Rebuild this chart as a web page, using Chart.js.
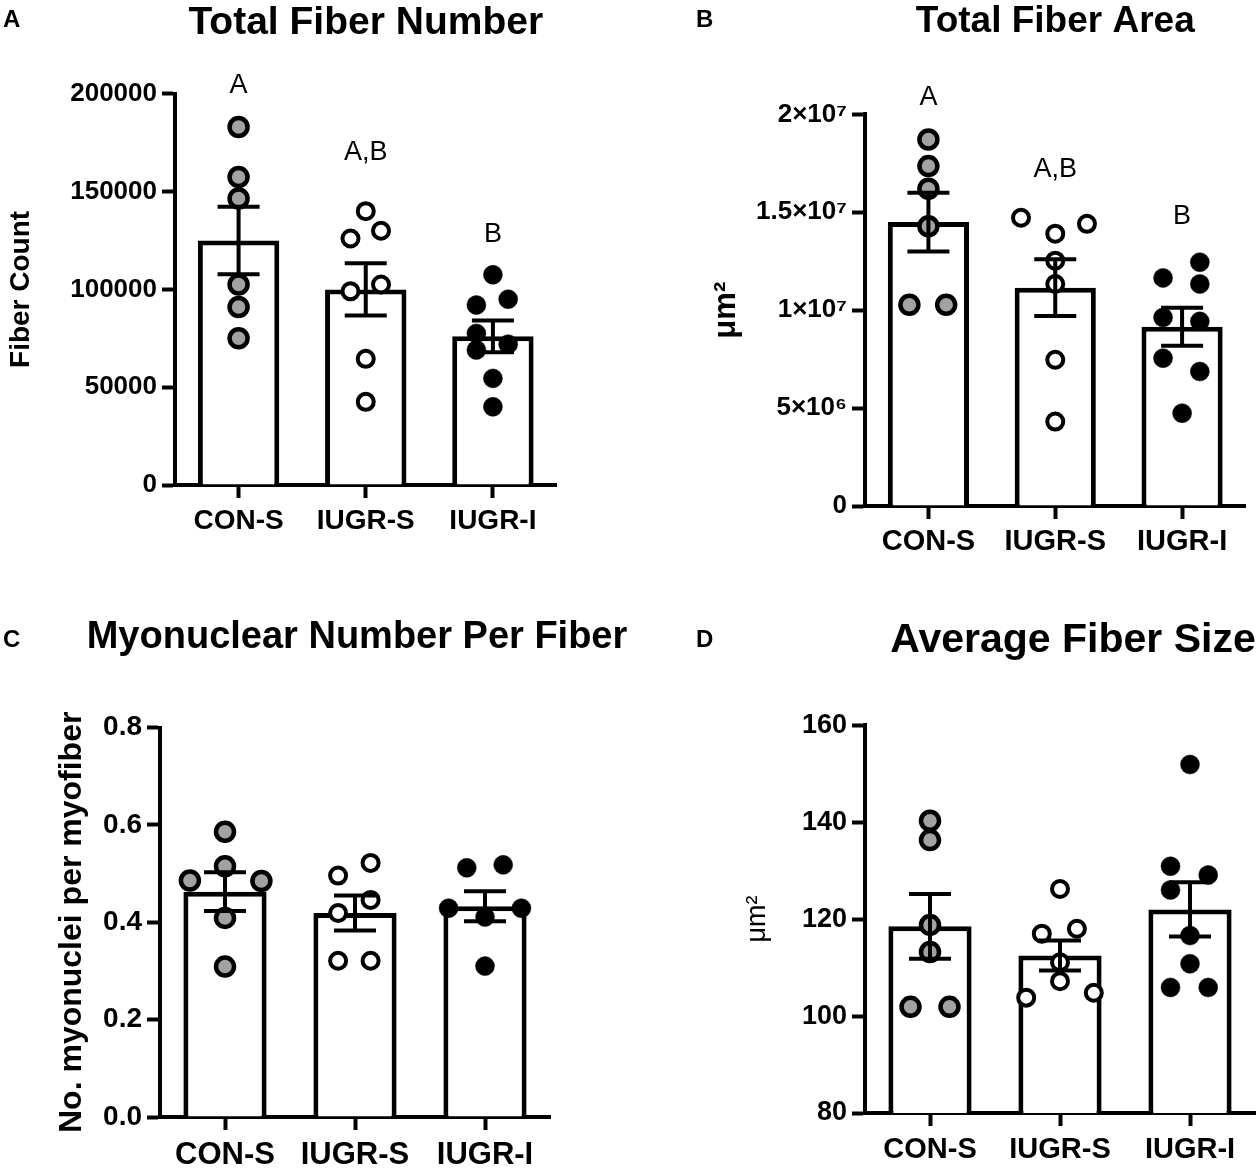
<!DOCTYPE html>
<html>
<head>
<meta charset="utf-8">
<script src="https://cdn.jsdelivr.net/npm/chart.js@4.4.0/dist/chart.umd.min.js"></script>
<style>
  html, body { margin: 0; padding: 0; background: #fff; overflow: hidden; }
  body { width: 1259px; height: 1170px; position: relative; }
  .panel { position: absolute; }
</style>
</head>
<body>
<div class="panel" style="left:0;top:0;width:570px;height:565px"><canvas id="chartA"></canvas></div>
<div class="panel" style="left:690px;top:0;width:569px;height:565px"><canvas id="chartB"></canvas></div>
<div class="panel" style="left:690px;top:600px;width:766px;height:570px"><canvas id="chartD"></canvas></div>
<div class="panel" style="left:0;top:600px;width:714px;height:570px"><canvas id="chartC"></canvas></div>
<script>
const groups = ['CON-S', 'IUGR-S', 'IUGR-I'];

// A - total fiber number
const numCon = [183000, 157500, 146500, 102500, 91000, 75000];
const numIugrS = [140000, 130000, 126000, 102500, 99000, 64500, 42500];
const numIugrI = [107500, 95000, 92000, 77500, 72000, 69000, 54500, 40000];
const numMean = [125000, 100000, 76000];
const numSem = [17200, 13400, 8100];
const numSig = ['A', 'A,B', 'B'];
const numSigAt = [204000, 170000, 128000];
const numJitter = [
  [0, 0, 0, 0, 0, 0],
  [0, 0.12, -0.12, 0.12, -0.12, 0, 0],
  [0, 0.12, -0.13, -0.13, 0.12, -0.13, 0, 0]
];
const numTicks = [0, 50000, 100000, 150000, 200000];

// B - total fiber area (um2)
const areaCon = [1.872e7, 1.736e7, 1.62e7, 1.429e7, 1.028e7, 1.028e7];
const areaIugrS = [1.472e7, 1.441e7, 1.391e7, 1.253e7, 1.134e7, 7.47e6, 4.31e6];
const areaIugrI = [1.245e7, 1.165e7, 1.134e7, 9.63e6, 9.43e6, 7.55e6, 6.87e6, 4.74e6];
const areaMean = [1.45e7, 1.115e7, 9.15e6];
const areaSem = [1.5e6, 1.45e6, 9.7e5];
const areaSig = ['A', 'A,B', 'B'];
const areaSigAt = [2.087e7, 1.72e7, 1.478e7];
const areaJitter = [
  [0, 0, 0, 0, -0.15, 0.14],
  [-0.27, 0.25, 0, 0, 0, 0, 0],
  [0.14, -0.15, 0.14, -0.15, 0.14, -0.15, 0.14, 0]
];
const areaTicks = [0, 5e6, 1e7, 1.5e7, 2e7];

// C - myonuclei per fiber
const nucCon = [0.586, 0.515, 0.486, 0.485, 0.409, 0.309];
const nucIugrS = [0.522, 0.496, 0.446, 0.419, 0.321, 0.321];
const nucIugrI = [0.518, 0.512, 0.429, 0.429, 0.411, 0.31];
const nucMean = [0.463, 0.419, 0.433];
const nucSem = [0.040, 0.036, 0.031];
const nucJitter = [
  [0, 0, -0.27, 0.28, 0, 0],
  [0.12, -0.13, 0.12, -0.13, -0.13, 0.12],
  [0.14, -0.14, -0.28, 0.28, 0, 0]
];
const nucTicks = [0, 0.2, 0.4, 0.6, 0.8];

// D - average fiber size (um2)
const sizeCon = [140.3, 136.3, 118.8, 113.2, 101.9, 101.9];
const sizeIugrS = [126.2, 118.0, 117.0, 111.1, 107.2, 104.8, 103.8];
const sizeIugrI = [151.9, 130.9, 129.1, 126.0, 116.6, 110.8, 105.9, 105.9];
const sizeMean = [118.5, 112.5, 122];
const sizeSem = [6.7, 3.1, 5.6];
const sizeJitter = [
  [0, 0, 0, 0, -0.15, 0.15],
  [0, 0.13, -0.14, 0, 0, 0.26, -0.26],
  [0, -0.15, 0.14, -0.15, 0, 0, -0.15, 0.14]
];
const sizeTicks = [80, 100, 120, 140, 160];

const FONT = '"Liberation Sans", Arial, Helvetica, sans-serif';
Chart.defaults.font.family = FONT;
Chart.defaults.color = '#000';

// marker look per group: grey ring, open ring, solid black
const markers = [
  { fill: '#a2a2a2', r: 9, bw: 4.5 },
  { fill: '#ffffff', r: 8, bw: 4 },
  { fill: '#000000', r: 9.5, bw: 0.5 }
];

const SUP = { '0': '⁰', '1': '¹', '2': '²', '3': '³', '4': '⁴', '5': '⁵', '6': '⁶', '7': '⁷', '8': '⁸', '9': '⁹' };
function sciLabel(v) {
  if (v === 0) return '0';
  const e = Math.floor(Math.log10(v));
  const m = +(v / Math.pow(10, e)).toFixed(2);
  return m + '×10' + String(e).split('').map(c => SUP[c]).join('');
}

// error bars, significance letters and panel letter
const deco = {
  id: 'deco',
  afterDatasetsDraw(chart, args, o) {
    const { ctx, scales: { x, y } } = chart;
    ctx.save();
    ctx.strokeStyle = '#000';
    ctx.lineWidth = 4;
    o.mean.forEach((m, i) => {
      const px = x.getPixelForValue(i);
      const hi = y.getPixelForValue(m + o.sem[i]);
      const lo = y.getPixelForValue(m - o.sem[i]);
      ctx.beginPath();
      ctx.moveTo(px, hi); ctx.lineTo(px, lo);
      ctx.moveTo(px - 21, hi); ctx.lineTo(px + 21, hi);
      ctx.moveTo(px - 21, lo); ctx.lineTo(px + 21, lo);
      ctx.stroke();
    });
    ctx.restore();
  },
  afterDraw(chart, args, o) {
    const { ctx, scales: { x, y } } = chart;
    ctx.save();
    ctx.fillStyle = '#000';
    ctx.textBaseline = 'middle';
    if (o.sig) {
      ctx.font = '27px ' + FONT;
      ctx.textAlign = 'center';
      o.sig.forEach((s, i) => ctx.fillText(s, x.getPixelForValue(i), y.getPixelForValue(o.sigAt[i])));
    }
    ctx.font = 'bold 24px ' + FONT;
    ctx.textAlign = 'left';
    ctx.fillText(o.letter, o.letterX, o.letterY);
    ctx.restore();
  }
};

function makePanel(id, c) {
  const axisLine = { display: true, width: 4, color: '#000' };
  const tickMarks = { display: true, drawOnChartArea: false, drawTicks: true, tickLength: 13, tickWidth: 4, tickColor: '#000', offset: false };
  const sets = [{
    type: 'bar',
    data: c.mean.map((m, i) => ({ x: i, y: m })),
    backgroundColor: '#fff',
    borderColor: '#000',
    borderWidth: 5,
    borderSkipped: 'start',
    barPercentage: 1,
    categoryPercentage: 0.64,
    order: 3
  }];
  c.series.forEach((vals, g) => {
    sets.push({
      type: 'scatter',
      data: vals.map((v, k) => ({ x: g + c.jitter[g][k], y: v })),
      backgroundColor: markers[g].fill,
      borderColor: '#000',
      borderWidth: markers[g].bw,
      pointRadius: markers[g].r,
      pointHoverRadius: markers[g].r,
      clip: false,
      order: 1
    });
  });
  const scales = {
    x: {
      type: 'linear', min: -0.5, max: 2.5, offset: false,
      afterBuildTicks: s => { s.ticks = groups.map((g, i) => ({ value: i })); },
      afterFit: s => { s.height = c.xHeight; },
      ticks: { callback: v => groups[v], font: { size: c.xFont, weight: 'bold' }, padding: c.xPad, maxRotation: 0, autoSkip: false },
      grid: tickMarks,
      border: axisLine
    },
    y: {
      min: c.ticks[0], max: c.ticks[c.ticks.length - 1],
      afterBuildTicks: s => { s.ticks = c.ticks.map(v => ({ value: v })); },
      afterFit: s => { s.width = c.yWidth; },
      ticks: { callback: c.fmt, font: { size: c.tickFont, weight: 'bold' }, padding: 5 },
      grid: tickMarks,
      border: axisLine,
      title: {
        display: true, text: c.yTitle, color: '#000',
        font: { size: c.yTitleSize, weight: c.yTitleWeight },
        padding: { top: c.yTitlePad, bottom: 0 }
      }
    }
  };
  // empty right-hand gap so a full-width title can sit off the plot centre
  if (c.rightGap) {
    scales.gap = {
      type: 'linear', position: 'right', display: true,
      afterFit: s => { s.width = c.rightGap; },
      ticks: { display: false },
      grid: { display: false, drawTicks: false },
      border: { display: false }
    };
  }
  return new Chart(document.getElementById(id), {
    type: 'bar',
    data: { datasets: sets },
    plugins: [deco],
    options: {
      responsive: true,
      maintainAspectRatio: false,
      animation: false,
      layout: { padding: { left: 0, right: c.padRight, top: 0, bottom: 0 } },
      plugins: {
        legend: { display: false },
        tooltip: { enabled: false },
        title: {
          display: true, text: c.title, fullSize: !!c.rightGap, color: '#000',
          font: { size: c.titleSize, weight: 'bold' },
          padding: { top: c.titleTop, bottom: c.titleBottom }
        },
        deco: { mean: c.mean, sem: c.sem, sig: c.sig, sigAt: c.sigAt, letter: c.letter, letterX: c.letterX, letterY: c.letterY }
      },
      scales
    }
  });
}

makePanel('chartA', {
  letter: 'A', letterX: 3, letterY: 20,
  title: 'Total Fiber Number', titleSize: 39, titleTop: 0, titleBottom: 47,
  series: [numCon, numIugrS, numIugrI], jitter: numJitter,
  mean: numMean, sem: numSem, sig: numSig, sigAt: numSigAt,
  ticks: numTicks, fmt: v => String(v), tickFont: 26,
  yTitle: 'Fiber Count', yTitleSize: 28, yTitleWeight: 'bold', yTitlePad: 4,
  yWidth: 175, xHeight: 80, padRight: 5, xFont: 28, xPad: 6
});

makePanel('chartB', {
  letter: 'B', letterX: 6, letterY: 20,
  title: 'Total Fiber Area', titleSize: 37, titleTop: 0, titleBottom: 70,
  series: [areaCon, areaIugrS, areaIugrI], jitter: areaJitter,
  mean: areaMean, sem: areaSem, sig: areaSig, sigAt: areaSigAt,
  ticks: areaTicks, fmt: sciLabel, tickFont: 26,
  yTitle: 'μm²', yTitleSize: 31, yTitleWeight: 'bold', yTitlePad: 18,
  yWidth: 175, xHeight: 59, padRight: 4, xFont: 29, xPad: 6
});

makePanel('chartC', {
  letter: 'C', letterX: 3, letterY: 40,
  title: 'Myonuclear Number Per Fiber', titleSize: 38, titleTop: 15, titleBottom: 67,
  series: [nucCon, nucIugrS, nucIugrI], jitter: nucJitter,
  mean: nucMean, sem: nucSem,
  ticks: nucTicks, fmt: v => v.toFixed(1), tickFont: 28,
  yTitle: 'No. myonuclei per myofiber', yTitleSize: 32, yTitleWeight: 'bold', yTitlePad: 53,
  yWidth: 160, xHeight: 53, padRight: 0, rightGap: 164, xFont: 31, xPad: 7
});

makePanel('chartD', {
  letter: 'D', letterX: 6, letterY: 40,
  title: 'Average Fiber Size', titleSize: 41, titleTop: 16, titleBottom: 60,
  series: [sizeCon, sizeIugrS, sizeIugrI], jitter: sizeJitter,
  mean: sizeMean, sem: sizeSem,
  ticks: sizeTicks, fmt: v => String(v), tickFont: 27,
  yTitle: 'μm²', yTitleSize: 27, yTitleWeight: 'normal', yTitlePad: 51,
  yWidth: 175, xHeight: 57, padRight: 0, rightGap: 201, xFont: 29, xPad: 7
});
</script>
</body>
</html>
